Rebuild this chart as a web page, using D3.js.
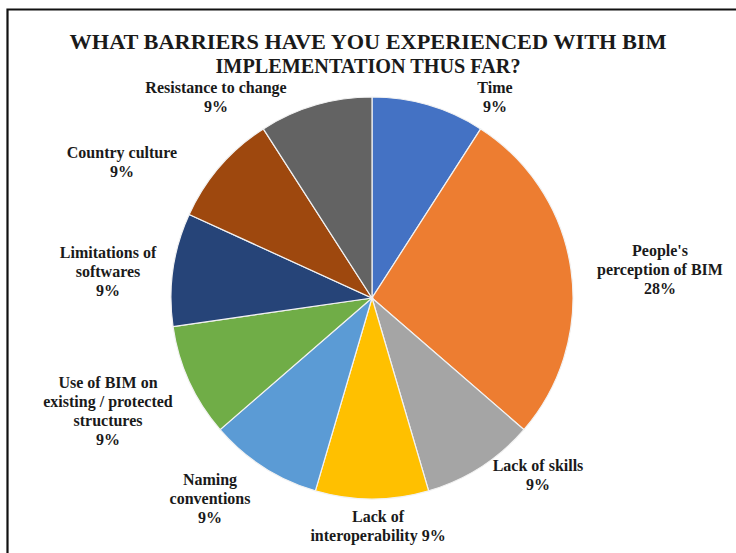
<!DOCTYPE html>
<html>
<head>
<meta charset="utf-8">
<script src="https://cdn.jsdelivr.net/npm/d3@7"></script>
<style>
    body { margin: 0; background: #fff; }
    svg { display: block; }
    text { font-family: "Liberation Serif", "Times New Roman", serif; font-weight: bold; fill: #1a1a1a; }
</style>
</head>
<body>
<div id="chart"></div>
<script>
// -----------------------------
// data
// -----------------------------

const categories = [
    "Time",
    "People's\nperception of BIM",
    "Lack of skills",
    "Lack of\ninteroperability",
    "Naming\nconventions",
    "Use of BIM on\nexisting / protected\nstructures",
    "Limitations of\nsoftwares",
    "Country culture",
    "Resistance to change"
]
// number of responses per barrier
const counts = [1, 3, 1, 1, 1, 1, 1, 1, 1]
// percentages as printed on the chart
const pctLabels = ["9%", "28%", "9%", "9%", "9%", "9%", "9%", "9%", "9%"]
const titleLines = ["WHAT BARRIERS HAVE YOU EXPERIENCED WITH BIM", "IMPLEMENTATION THUS FAR?"]

const colours = ["#4472C4", "#ED7D31", "#A5A5A5", "#FFC000", "#5B9BD5",
                 "#70AD47", "#264478", "#9E480E", "#636363"]

// -----------------------------
// layout
// -----------------------------

const w = 736
const h = 553
const centre = {x: 372, y: 298}
const radius = 201

const svg = d3.select('#chart')
    .append('svg')
    .attr('width', w)
    .attr('height', h)

// frame (only left and top edges are visible)
svg.append('path')
    .attr('d', 'M7.5,' + h + ' V9.5 H' + w)
    .attr('fill', 'none')
    .attr('stroke', '#111')
    .attr('stroke-width', 2.2)

// title
svg.append('g')
    .selectAll('text')
    .data(titleLines)
    .enter()
    .append('text')
    .attr('x', 368)
    .attr('y', (d, i) => 49 + i * 24)
    .attr('text-anchor', 'middle')
    .attr('font-size', 21)
    .attr('textLength', (d, i) => i === 0 ? 597 : 305)
    .attr('lengthAdjust', 'spacingAndGlyphs')
    .text(d => d)

// pie
const pie = d3.pie()
    .sort(null)
    .value(d => d)

const arc = d3.arc()
    .innerRadius(0)
    .outerRadius(radius)

svg.append('g')
    .attr('transform', 'translate(' + centre.x + ',' + centre.y + ')')
    .selectAll('path.slice')
    .data(pie(counts))
    .enter()
    .append('path')
    .attr('class', 'slice')
    .attr('d', arc)
    .attr('fill', (d, i) => colours[i])
    .attr('stroke', '#f2f2f2')
    .attr('stroke-width', 1.2)

// labels, placed outside the pie like excel's best fit
const labelPos = [
    [495, 93], [660, 256], [538, 471], [378, 522], [210, 485],
    [108, 388], [108, 258], [122, 158], [216, 93]
]
const lineH = 19

const labels = svg.append('g')
    .selectAll('text.lab')
    .data(categories)
    .enter()
    .append('text')
    .attr('class', 'lab')
    .attr('text-anchor', 'middle')
    .attr('font-size', 16)
    .attr('x', (d, i) => labelPos[i][0])
    .attr('y', (d, i) => labelPos[i][1])

labels.each(function(d, i) {
    const lines = d.split('\n')
    const el = d3.select(this)
    // interoperability shares its last line with the percentage
    if (i === 3) {
        lines[lines.length - 1] += ' ' + pctLabels[i]
    } else {
        lines.push(pctLabels[i])
    }
    el.selectAll('tspan')
        .data(lines)
        .enter()
        .append('tspan')
        .attr('x', labelPos[i][0])
        .attr('dy', (l, j) => j === 0 ? 0 : lineH)
        .text(l => l)
})
</script>
</body>
</html>
